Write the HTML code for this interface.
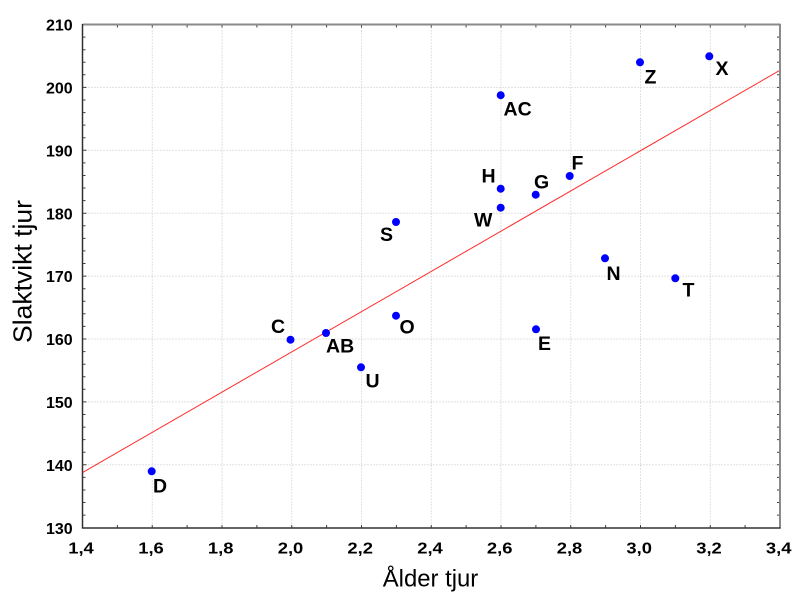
<!DOCTYPE html>
<html>
<head>
<meta charset="utf-8">
<style>
html,body{margin:0;padding:0;background:#fff;}
svg{display:block;}
text{font-family:"Liberation Sans",Arial,sans-serif;}
</style>
</head>
<body>
<svg width="800" height="600" viewBox="0 0 800 600" xmlns="http://www.w3.org/2000/svg">
<rect x="0" y="0" width="800" height="600" fill="#fff"/>
<!-- grid -->
<g stroke="#c4c4c4" stroke-width="1" stroke-dasharray="1,2" fill="none">
<line x1="152.25" y1="24.5" x2="152.25" y2="528"/>
<line x1="222" y1="24.5" x2="222" y2="528"/>
<line x1="291.75" y1="24.5" x2="291.75" y2="528"/>
<line x1="361.5" y1="24.5" x2="361.5" y2="528"/>
<line x1="431.25" y1="24.5" x2="431.25" y2="528"/>
<line x1="501" y1="24.5" x2="501" y2="528"/>
<line x1="570.75" y1="24.5" x2="570.75" y2="528"/>
<line x1="640.5" y1="24.5" x2="640.5" y2="528"/>
<line x1="710.25" y1="24.5" x2="710.25" y2="528"/>
<line x1="82.5" y1="87.4" x2="780" y2="87.4"/>
<line x1="82.5" y1="150.3" x2="780" y2="150.3"/>
<line x1="82.5" y1="213.2" x2="780" y2="213.2"/>
<line x1="82.5" y1="276.1" x2="780" y2="276.1"/>
<line x1="82.5" y1="339" x2="780" y2="339"/>
<line x1="82.5" y1="401.9" x2="780" y2="401.9"/>
<line x1="82.5" y1="464.8" x2="780" y2="464.8"/>
</g>
<!-- ticks -->
<g stroke="#404040" stroke-width="1">
<path d="M82.5 37.1h3M82.5 49.7h3M82.5 62.3h3M82.5 74.8h3M82.5 87.4h4M82.5 100h3M82.5 112.6h3M82.5 125.1h3M82.5 137.7h3M82.5 150.3h4M82.5 162.9h3M82.5 175.5h3M82.5 188h3M82.5 200.6h3M82.5 213.2h4M82.5 225.8h3M82.5 238.4h3M82.5 250.9h3M82.5 263.5h3M82.5 276.1h4M82.5 288.7h3M82.5 301.3h3M82.5 313.8h3M82.5 326.4h3M82.5 339h4M82.5 351.6h3M82.5 364.2h3M82.5 376.7h3M82.5 389.3h3M82.5 401.9h4M82.5 414.5h3M82.5 427.1h3M82.5 439.6h3M82.5 452.2h3M82.5 464.8h4M82.5 477.4h3M82.5 490h3M82.5 502.5h3M82.5 515.1h3"/>
<path d="M780 37.1h-3M780 49.7h-3M780 62.3h-3M780 74.8h-3M780 87.4h-3M780 100h-3M780 112.6h-3M780 125.1h-3M780 137.7h-3M780 150.3h-3M780 162.9h-3M780 175.5h-3M780 188h-3M780 200.6h-3M780 213.2h-3M780 225.8h-3M780 238.4h-3M780 250.9h-3M780 263.5h-3M780 276.1h-3M780 288.7h-3M780 301.3h-3M780 313.8h-3M780 326.4h-3M780 339h-3M780 351.6h-3M780 364.2h-3M780 376.7h-3M780 389.3h-3M780 401.9h-3M780 414.5h-3M780 427.1h-3M780 439.6h-3M780 452.2h-3M780 464.8h-3M780 477.4h-3M780 490h-3M780 502.5h-3M780 515.1h-3"/>
<path d="M117.4 528v-3M152.25 528v-3M187.1 528v-3M222 528v-3M256.9 528v-3M291.75 528v-3M326.6 528v-3M361.5 528v-3M396.4 528v-3M431.25 528v-3M466.1 528v-3M501 528v-3M535.9 528v-3M570.75 528v-3M605.6 528v-3M640.5 528v-3M675.4 528v-3M710.25 528v-3M745.1 528v-3"/>
<path d="M117.4 24.5v3M152.25 24.5v3M187.1 24.5v3M222 24.5v3M256.9 24.5v3M291.75 24.5v3M326.6 24.5v3M361.5 24.5v3M396.4 24.5v3M431.25 24.5v3M466.1 24.5v3M501 24.5v3M535.9 24.5v3M570.75 24.5v3M605.6 24.5v3M640.5 24.5v3M675.4 24.5v3M710.25 24.5v3M745.1 24.5v3"/>
</g>
<!-- frame -->
<line x1="82.5" y1="24.5" x2="780.5" y2="24.5" stroke="#8a8a8a" stroke-width="2"/>
<line x1="780" y1="24" x2="780" y2="528.5" stroke="#8a8a8a" stroke-width="2"/>
<line x1="82.5" y1="24" x2="82.5" y2="528.5" stroke="#303030" stroke-width="1.5"/>
<line x1="82" y1="528" x2="780.5" y2="528" stroke="#303030" stroke-width="1.5"/>
<!-- regression line -->
<line x1="83" y1="472.3" x2="779" y2="70.8" stroke="#ff2a2a" stroke-width="1"/>
<!-- points -->
<g fill="#0000ff">
<circle cx="151.7" cy="471.3" r="4"/>
<circle cx="290.5" cy="339.7" r="4"/>
<circle cx="326" cy="333" r="4"/>
<circle cx="361" cy="367.3" r="4"/>
<circle cx="396" cy="315.7" r="4"/>
<circle cx="396" cy="222" r="4"/>
<circle cx="500.7" cy="95.2" r="4"/>
<circle cx="500.7" cy="188.7" r="4"/>
<circle cx="500.7" cy="207.7" r="4"/>
<circle cx="535.7" cy="194.7" r="4"/>
<circle cx="569.7" cy="176" r="4"/>
<circle cx="536" cy="329.3" r="4"/>
<circle cx="605" cy="258.3" r="4"/>
<circle cx="675.3" cy="278.3" r="4"/>
<circle cx="640" cy="62.3" r="4"/>
<circle cx="709.3" cy="56.3" r="4"/>
</g>
<!-- point labels -->
<g font-size="19.5" font-weight="bold" fill="#000">
<text x="153" y="492.7">D</text>
<text x="271" y="333">C</text>
<text x="326" y="352.3">AB</text>
<text x="365.5" y="387.3">U</text>
<text x="399.5" y="333.3">O</text>
<text x="380" y="241">S</text>
<text x="503.5" y="115.7">AC</text>
<text x="481.5" y="182.7">H</text>
<text x="474" y="226.7">W</text>
<text x="534" y="188.3">G</text>
<text x="571.5" y="169.3">F</text>
<text x="538" y="350">E</text>
<text x="606.5" y="280">N</text>
<text x="682.5" y="296.7">T</text>
<text x="644.5" y="83.3">Z</text>
<text x="715.5" y="75">X</text>
</g>
<!-- y tick labels -->
<g font-size="16" font-weight="bold" fill="#000" text-anchor="end">
<text x="72.7" y="30.6">210</text>
<text x="72.7" y="93.5">200</text>
<text x="72.7" y="156.4">190</text>
<text x="72.7" y="219.3">180</text>
<text x="72.7" y="282.2">170</text>
<text x="72.7" y="345.1">160</text>
<text x="72.7" y="408">150</text>
<text x="72.7" y="470.9">140</text>
<text x="72.7" y="534">130</text>
</g>
<!-- x tick labels -->
<g font-size="16" font-weight="bold" fill="#000" text-anchor="middle">
<text transform="translate(81,553.5) scale(1.15,1)">1,4</text>
<text transform="translate(151,553.5) scale(1.15,1)">1,6</text>
<text transform="translate(220.7,553.5) scale(1.15,1)">1,8</text>
<text transform="translate(290.5,553.5) scale(1.15,1)">2,0</text>
<text transform="translate(360.2,553.5) scale(1.15,1)">2,2</text>
<text transform="translate(430,553.5) scale(1.15,1)">2,4</text>
<text transform="translate(499.7,553.5) scale(1.15,1)">2,6</text>
<text transform="translate(569.5,553.5) scale(1.15,1)">2,8</text>
<text transform="translate(639.2,553.5) scale(1.15,1)">3,0</text>
<text transform="translate(709,553.5) scale(1.15,1)">3,2</text>
<text transform="translate(778.7,553.5) scale(1.15,1)">3,4</text>
</g>
<!-- axis titles -->
<text x="430.5" y="586.7" font-size="24" text-anchor="middle" textLength="95.5" lengthAdjust="spacingAndGlyphs">Ålder tjur</text>
<text transform="translate(31.5,271.5) rotate(-90)" x="0" y="0" font-size="26" text-anchor="middle" textLength="143" lengthAdjust="spacingAndGlyphs">Slaktvikt tjur</text>
</svg>
</body>
</html>
